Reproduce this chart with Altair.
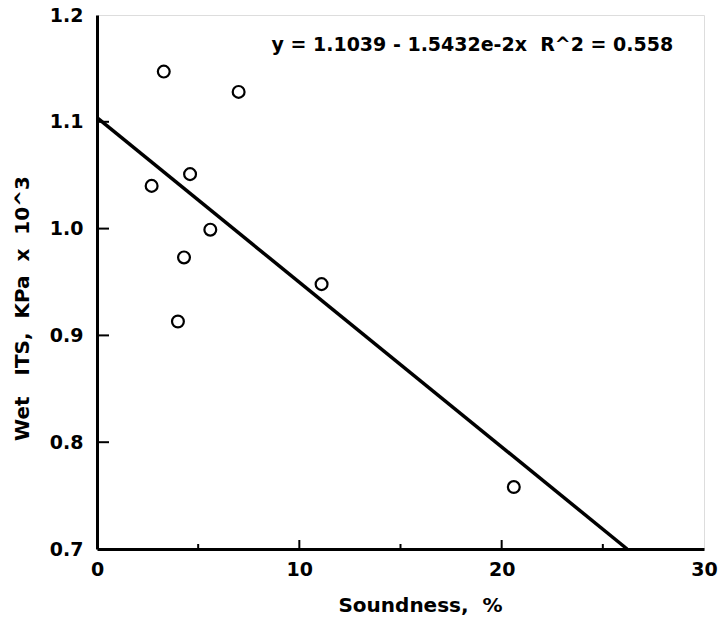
import altair as alt
import pandas as pd

# Data
soundness = [3.3, 7.0, 2.7, 4.6, 5.6, 4.3, 11.1, 4.0, 20.6]
wet_its = [1.147, 1.128, 1.040, 1.051, 0.999, 0.973, 0.948, 0.913, 0.758]

fit_x = [0.0, 26.2]
fit_y = [1.1039, 0.7]

x_ticks = [0, 10, 20, 30]
y_ticks = [0.7, 0.8, 0.9, 1.0, 1.1, 1.2]
x_major_inner = [10, 20]
x_minor_inner = [5, 15, 25]
y_inner = [0.8, 0.9, 1.0, 1.1]

NB = "\u00a0"
equation = f"y = 1.1039 - 1.5432e-2x{NB}{NB}R^2 = 0.558"
y_title = f"Wet{NB}{NB}{NB}ITS,{NB}{NB}KPa{NB}{NB}x{NB}{NB}10^3"
x_title = f"Soundness,{NB}{NB}%"

FONT = "DejaVu Sans"
W, H = 607, 534

pts = pd.DataFrame({"x": soundness, "y": wet_its})
fit = pd.DataFrame({"x": fit_x, "y": fit_y})
ann = pd.DataFrame({"x": [18.55], "y": [1.172], "t": [equation]})

xscale = alt.Scale(domain=[0, 30], nice=False, zero=False)
yscale = alt.Scale(domain=[0.7, 1.2], nice=False, zero=False)

xaxis = alt.Axis(
    values=x_ticks, format="d", ticks=False, grid=False,
    domainColor="black", domainWidth=3,
    labelFont=FONT, labelFontSize=19, labelFontWeight="bold", labelColor="black",
    labelPadding=11, labelFlush=False,
    title=x_title, titleFont=FONT, titleFontSize=20, titleFontWeight="bold",
    titleColor="black", titleX=323, titleY=56, titleBaseline="middle",
    titleAlign="center",
)
yaxis = alt.Axis(
    values=y_ticks, format=".1f", ticks=False, grid=False,
    domainColor="black", domainWidth=3,
    labelFont=FONT, labelFontSize=19, labelFontWeight="bold", labelColor="black",
    labelPadding=14, labelFlush=False,
    title=y_title, titleFont=FONT, titleFontSize=20, titleFontWeight="bold",
    titleColor="black", titleX=-75, titleY=293, titleBaseline="middle",
    titleAlign="center", titleAngle=-90,
)

base_pts = alt.Chart(pts).mark_point(
    shape="circle", filled=False, color="black", strokeWidth=2.2, size=140, opacity=1
).encode(
    x=alt.X("x:Q", scale=xscale, axis=xaxis),
    y=alt.Y("y:Q", scale=yscale, axis=yaxis),
)

line = alt.Chart(fit).mark_line(color="black", strokeWidth=3.5).encode(
    x=alt.X("x:Q", scale=xscale), y=alt.Y("y:Q", scale=yscale)
)

text = alt.Chart(ann).mark_text(
    font=FONT, fontSize=19, fontWeight="bold", color="black", align="center", baseline="middle"
).encode(x=alt.X("x:Q", scale=xscale), y=alt.Y("y:Q", scale=yscale), text="t:N")

ytick = alt.Chart(pd.DataFrame({"y": y_inner})).mark_rule(color="black", strokeWidth=2).encode(
    y=alt.Y("y:Q", scale=yscale), x=alt.value(0), x2=alt.value(12)
)
xmaj = alt.Chart(pd.DataFrame({"x": x_major_inner})).mark_rule(color="black", strokeWidth=2).encode(
    x=alt.X("x:Q", scale=xscale), y=alt.value(H), y2=alt.value(H - 9)
)
xmin = alt.Chart(pd.DataFrame({"x": x_minor_inner})).mark_rule(color="black", strokeWidth=2).encode(
    x=alt.X("x:Q", scale=xscale), y=alt.value(H), y2=alt.value(H - 5)
)

chart = alt.layer(base_pts, line, text, ytick, xmaj, xmin).properties(
    width=W, height=H,
    autosize=alt.AutoSizeParams(type="none"),
    padding={"left": 97, "top": 15, "right": 21, "bottom": 79},
).configure_view(
    stroke="black", strokeWidth=2.5
).configure(background="white")

chart.save("out.html", embed_options={"renderer": "svg", "actions": False})
